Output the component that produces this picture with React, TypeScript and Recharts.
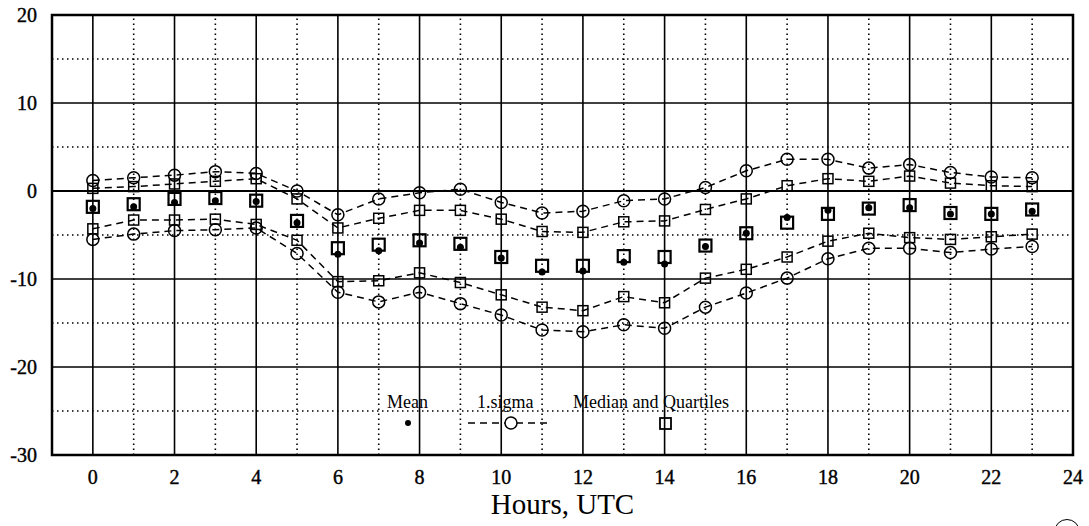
import {
  ComposedChart,
  Line,
  XAxis,
  YAxis,
  ReferenceLine,
  ReferenceArea
} from "recharts";

const hours = [0, 1, 2, 3, 4, 5, 6, 7, 8, 9, 10, 11, 12, 13, 14, 15, 16, 17, 18, 19, 20, 21, 22, 23];

const sigmaUp = [1.2, 1.5, 1.8, 2.2, 2.0, 0.0, -2.7, -0.9, -0.2, 0.2, -1.3, -2.5, -2.3, -1.1, -0.9, 0.4, 2.3, 3.6, 3.6, 2.6, 3.0, 2.1, 1.6, 1.5];
const quartUp = [0.3, 0.5, 0.8, 1.1, 1.4, -0.9, -4.2, -3.1, -2.2, -2.2, -3.2, -4.6, -4.7, -3.5, -3.4, -2.1, -0.9, 0.6, 1.4, 1.1, 1.7, 0.9, 0.6, 0.5];
const median = [-1.8, -1.5, -0.9, -0.8, -1.1, -3.4, -6.5, -6.1, -5.6, -6.0, -7.5, -8.5, -8.5, -7.4, -7.5, -6.2, -4.8, -3.6, -2.6, -2.0, -1.6, -2.5, -2.6, -2.1];
const mean = [-2.0, -1.8, -1.3, -1.1, -1.2, -3.6, -7.2, -6.8, -5.9, -6.4, -7.6, -9.2, -9.1, -8.1, -8.3, -6.3, -4.8, -3.0, -2.2, -1.9, -1.9, -2.6, -2.6, -2.3];
const quartLo = [-4.3, -3.3, -3.3, -3.2, -3.8, -5.6, -10.3, -10.2, -9.3, -10.4, -11.8, -13.2, -13.6, -12.0, -12.7, -9.9, -8.9, -7.5, -5.7, -4.8, -5.3, -5.5, -5.2, -4.9];
const sigmaLo = [-5.5, -4.9, -4.5, -4.4, -4.2, -7.1, -11.5, -12.6, -11.5, -12.8, -14.1, -15.8, -16.0, -15.2, -15.6, -13.2, -11.6, -9.9, -7.7, -6.5, -6.5, -7.0, -6.6, -6.3];

const xTicks = [0, 2, 4, 6, 8, 10, 12, 14, 16, 18, 20, 22, 24];
const yTicks = [-30, -20, -10, 0, 10, 20];
const xGridSolid = [0, 2, 4, 6, 8, 10, 12, 14, 16, 18, 20, 22];
const xGridDotted = [1, 3, 5, 7, 9, 11, 13, 15, 17, 19, 21, 23];
const yGridSolid = [-20, -10, 0, 10];
const yGridDotted = [-25, -15, -5, 5, 15];

const FONT = '"Liberation Serif", "Times New Roman", serif';
const DOTTED = "1.5 3.5";
const DASHED = "7 5";

const data = hours.map((h, i) => ({
  hour: h,
  sigmaUp: sigmaUp[i],
  quartUp: quartUp[i],
  median: median[i],
  mean: mean[i],
  quartLo: quartLo[i],
  sigmaLo: sigmaLo[i]
}));

function circleDot(props: any) {
  const { cx, cy, index } = props;
  if (cx == null || cy == null) return <g key={`c${index}`} />;
  return <circle key={`c${index}`} cx={cx} cy={cy} r={6} fill="none" stroke="#000" strokeWidth={1.5} />;
}

function smallSquare(props: any) {
  const { cx, cy, index } = props;
  if (cx == null || cy == null) return <g key={`q${index}`} />;
  return <rect key={`q${index}`} x={cx - 5} y={cy - 5} width={10} height={10} fill="none" stroke="#000" strokeWidth={1.5} />;
}

function bigSquare(props: any) {
  const { cx, cy, index } = props;
  if (cx == null || cy == null) return <g key={`m${index}`} />;
  return <rect key={`m${index}`} x={cx - 6} y={cy - 6} width={12} height={12} fill="none" stroke="#000" strokeWidth={2.2} />;
}

function meanDot(props: any) {
  const { cx, cy, index } = props;
  if (cx == null || cy == null) return <g key={`d${index}`} />;
  return <circle key={`d${index}`} cx={cx} cy={cy} r={3.5} fill="#000" />;
}

function XTick(props: any) {
  const { x, y, payload } = props;
  return (
    <text x={x} y={y} dy="0.71em" textAnchor="middle" fill="#000" stroke="#000" strokeWidth={0.4} fontSize={20} fontFamily={FONT}>
      {payload.value}
    </text>
  );
}

function YTick(props: any) {
  const { x, y, payload } = props;
  return (
    <text x={x} y={y} dy="0.36em" textAnchor="end" fill="#000" stroke="#000" strokeWidth={0.4} fontSize={20} fontFamily={FONT}>
      {payload.value}
    </text>
  );
}

function LegendOverlay() {
  return (
    <svg
      width={420}
      height={50}
      style={{ position: "absolute", left: 370, top: 390, overflow: "visible", pointerEvents: "none" }}
    >
      <g fontFamily={FONT} fontSize={18} fill="#000">
        <text x={17} y={18}>Mean</text>
        <text x={107} y={18}>1.sigma</text>
        <text x={203} y={18}>Median and Quartiles</text>
      </g>
      <circle cx={38} cy={33} r={3} fill="#000" />
      <line x1={98} y1={33} x2={180} y2={33} stroke="#000" strokeWidth={1.5} strokeDasharray={DASHED} />
      <circle cx={141} cy={33} r={6} fill="#fff" stroke="#000" strokeWidth={1.5} />
      <rect x={290} y={28} width={11} height={11} fill="none" stroke="#000" strokeWidth={1.8} />
    </svg>
  );
}

export default function App() {
  return (
    <div style={{ position: "absolute", left: 0, top: 0, width: 1089, height: 526, background: "#fff", fontFamily: FONT }}>
      <ComposedChart
        width={1089}
        height={526}
        data={data}
        margin={{ top: 15, right: 16, bottom: 0, left: 0 }}
      >
        <XAxis
          dataKey="hour"
          type="number"
          domain={[-1, 24]}
          ticks={xTicks}
          allowDataOverflow
          height={71}
          tickLine={false}
          axisLine={false}
          tickSize={0}
          tickMargin={15}
          tick={<XTick />}
          label={{
            value: "Hours, UTC",
            position: "insideBottom",
            offset: 12,
            fill: "#000",
            fontSize: 29,
            fontFamily: FONT
          }}
        />
        <YAxis
          type="number"
          domain={[-30, 20]}
          ticks={yTicks}
          allowDataOverflow
          width={52}
          tickLine={false}
          axisLine={false}
          tickSize={0}
          tickMargin={15}
          tick={<YTick />}
        />

        {yGridDotted.map(v => (
          <ReferenceLine key={`yd${v}`} y={v} stroke="#000" strokeWidth={1.6} strokeDasharray={DOTTED} />
        ))}
        {xGridDotted.map(v => (
          <ReferenceLine key={`xd${v}`} x={v} stroke="#000" strokeWidth={1.6} strokeDasharray={DOTTED} />
        ))}
        {yGridSolid.map(v => (
          <ReferenceLine key={`ys${v}`} y={v} stroke="#000" strokeWidth={v === 0 ? 2 : 1.6} />
        ))}
        {xGridSolid.map(v => (
          <ReferenceLine key={`xs${v}`} x={v} stroke="#000" strokeWidth={1.6} />
        ))}
        <ReferenceArea x1={-1} x2={24} y1={-30} y2={20} fill="none" fillOpacity={0} stroke="#000" strokeWidth={2.5} />

        <Line dataKey="sigmaUp" stroke="#000" strokeWidth={1.5} strokeDasharray={DASHED} dot={circleDot} activeDot={false} isAnimationActive={false} />
        <Line dataKey="quartUp" stroke="#000" strokeWidth={1.5} strokeDasharray={DASHED} dot={smallSquare} activeDot={false} isAnimationActive={false} />
        <Line dataKey="median" stroke="none" dot={bigSquare} activeDot={false} isAnimationActive={false} />
        <Line dataKey="mean" stroke="none" dot={meanDot} activeDot={false} isAnimationActive={false} />
        <Line dataKey="quartLo" stroke="#000" strokeWidth={1.5} strokeDasharray={DASHED} dot={smallSquare} activeDot={false} isAnimationActive={false} />
        <Line dataKey="sigmaLo" stroke="#000" strokeWidth={1.5} strokeDasharray={DASHED} dot={circleDot} activeDot={false} isAnimationActive={false} />
      </ComposedChart>
      <LegendOverlay />
      <div
        style={{
          position: "absolute",
          left: 1054,
          top: 519,
          width: 26,
          height: 26,
          borderRadius: "50%",
          border: "1.5px solid #000",
          boxSizing: "border-box"
        }}
      />
    </div>
  );
}
